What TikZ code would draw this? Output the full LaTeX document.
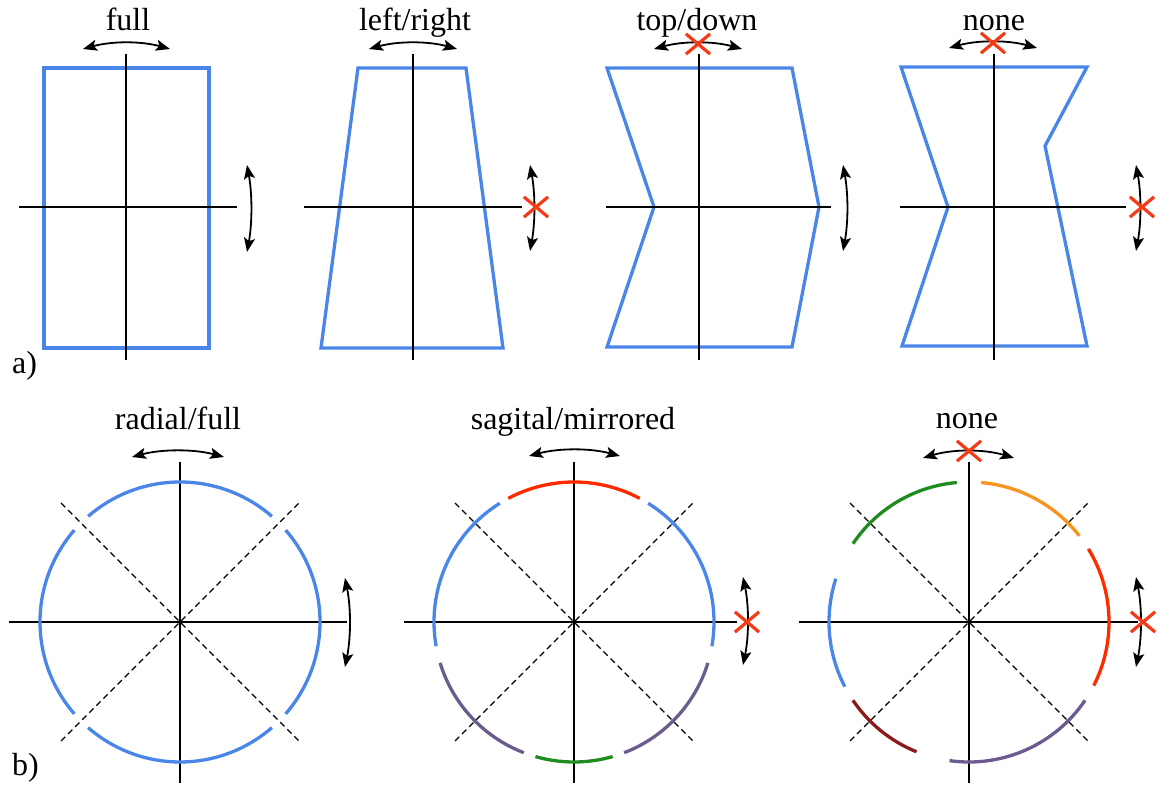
\documentclass[tikz,border=0pt]{standalone}
\usepackage{fontspec}
\setmainfont{Liberation Serif}
\usetikzlibrary{arrows.meta,shapes.misc}
\definecolor{sblue}{HTML}{4A86E8}
\definecolor{xred}{HTML}{F23C18}
\definecolor{ared}{HTML}{FF2A00}
\definecolor{agreen}{HTML}{1E8C1E}
\definecolor{aorange}{HTML}{F7931E}
\definecolor{apurple}{HTML}{6B5B8E}
\definecolor{adred}{HTML}{8B1A1A}
\tikzset{
  shapeline/.style={draw=sblue,line width=3.3pt,line join=miter},
  axisline/.style={draw=black,line width=1.3pt},
  diagline/.style={draw=black,line width=1.3pt,dash pattern=on 6pt off 4pt},
  dbl/.style={draw=black,line width=1.8pt,{Stealth[length=14pt,width=11pt,inset=3pt]}-{Stealth[length=14pt,width=11pt,inset=3pt]}},
  xmark/.style={cross out,draw=xred,line width=3.2pt,minimum width=21pt,minimum height=17pt,inner sep=0pt},
  arcline/.style={line width=3.3pt},
  lbl/.style={font=\fontsize{32}{36}\selectfont,anchor=base,inner sep=0pt},
}
\begin{document}
\begin{tikzpicture}[x=1pt,y=1pt]
\useasboundingbox (0,0) rectangle (1158,786);
% ---------------- row a ----------------
% panel 1
\draw[shapeline] (44,718) rectangle (209,438);
\coordinate (v1t) at (126,732); \coordinate (v1b) at (126,426);
\coordinate (h1l) at (19,579); \coordinate (h1r) at (237,579);
\draw[axisline] (v1t) -- (v1b); \draw[axisline] (h1l) -- (h1r);
\coordinate (t1a) at (83,737); \coordinate (t1b) at (170,737);
\draw[dbl] (t1a) .. controls +(29,8) and +(-29,8) .. (t1b);
\coordinate (r1a) at (247,621); \coordinate (r1b) at (247,534);
\draw[dbl] (r1a) .. controls +(5.3,-29) and +(5.3,29) .. (r1b);
\node[lbl] (L1) at (128,755) {full};
% panel 2
\draw[shapeline] (358,718) -- (466,718) -- (503,438) -- (321,438) -- cycle;
\coordinate (v2t) at (413,732); \coordinate (v2b) at (413,426);
\coordinate (h2l) at (304,579); \coordinate (h2r) at (522,579);
\draw[axisline] (v2t) -- (v2b); \draw[axisline] (h2l) -- (h2r);
\coordinate (t2a) at (369,737); \coordinate (t2b) at (457,737);
\draw[dbl] (t2a) .. controls +(29,8) and +(-29,8) .. (t2b);
\coordinate (r2a) at (530,621); \coordinate (r2b) at (530,535);
\draw[dbl] (r2a) .. controls +(5.3,-29) and +(5.3,29) .. (r2b);
\node[xmark] (X2r) at (536,579) {};
\node[lbl] (L2) at (415,755) {left/right};
% panel 3
\draw[shapeline] (607,718) -- (792,718) -- (819,579) -- (792,439) -- (607,439) -- (654,579) -- cycle;
\coordinate (v3t) at (699,732); \coordinate (v3b) at (699,426);
\coordinate (h3l) at (606,579); \coordinate (h3r) at (831,579);
\draw[axisline] (v3t) -- (v3b); \draw[axisline] (h3l) -- (h3r);
\coordinate (t3a) at (654,737); \coordinate (t3b) at (742,737);
\draw[dbl] (t3a) .. controls +(29,8) and +(-29,8) .. (t3b);
\node[xmark] (X3t) at (698,742) {};
\coordinate (r3a) at (843,621); \coordinate (r3b) at (843,535);
\draw[dbl] (r3a) .. controls +(5.3,-29) and +(5.3,29) .. (r3b);
\node[lbl] (L3) at (697,755) {top/down};
% panel 4
\draw[shapeline] (901,719) -- (1087,719) -- (1045,640) -- (1087,440) -- (902,440) -- (948,579) -- cycle;
\coordinate (v4t) at (994,732); \coordinate (v4b) at (994,426);
\coordinate (h4l) at (900,579); \coordinate (h4r) at (1126,579);
\draw[axisline] (v4t) -- (v4b); \draw[axisline] (h4l) -- (h4r);
\coordinate (t4a) at (949,738); \coordinate (t4b) at (1037,738);
\draw[dbl] (t4a) .. controls +(29,8) and +(-29,8) .. (t4b);
\node[xmark] (X4t) at (993,743) {};
\coordinate (r4a) at (1136,621); \coordinate (r4b) at (1136,535);
\draw[dbl] (r4a) .. controls +(5.3,-29) and +(5.3,29) .. (r4b);
\node[xmark] (X4r) at (1142,579) {};
\node[lbl] (L4) at (994,755) {none};
\node[lbl,anchor=base west] (La) at (12,412) {a)};
% ---------------- row b ----------------
% circle 1
\coordinate (c1) at (180,164);
\draw[axisline] (180,324) -- (180,3);
\draw[axisline] (9,164) -- (347,164);
\draw[diagline] (61,283) -- (299,45);
\draw[diagline] (61,45) -- (299,283);
\foreach \a/\b in {49/131,139/221,229/311,319/401}
  \draw[arcline,sblue] ([shift={(\a:140)}]c1) arc[start angle=\a,end angle=\b,radius=140];
\coordinate (t5a) at (132,329); \coordinate (t5b) at (224,329);
\draw[dbl] (t5a) .. controls +(30,8) and +(-30,8) .. (t5b);
\coordinate (r5a) at (345,208); \coordinate (r5b) at (345,119);
\draw[dbl] (r5a) .. controls +(6,-30) and +(6,30) .. (r5b);
\node[lbl] (L5) at (178,356) {radial/full};
\node[lbl,anchor=base west] (Lb) at (12,10) {b)};
% circle 2
\coordinate (c2) at (574,164);
\draw[axisline] (574,324) -- (574,3);
\draw[axisline] (404,164) -- (737,164);
\draw[diagline] (455,283) -- (693,45);
\draw[diagline] (455,45) -- (693,283);
\draw[arcline,ared] ([shift={(62:140)}]c2) arc[start angle=62,end angle=118,radius=140];
\draw[arcline,sblue] ([shift={(-10:140)}]c2) arc[start angle=-10,end angle=58,radius=140];
\draw[arcline,sblue] ([shift={(122:140)}]c2) arc[start angle=122,end angle=190,radius=140];
\draw[arcline,apurple] ([shift={(197:140)}]c2) arc[start angle=197,end angle=249,radius=140];
\draw[arcline,agreen] ([shift={(254:140)}]c2) arc[start angle=254,end angle=286,radius=140];
\draw[arcline,apurple] ([shift={(291:140)}]c2) arc[start angle=291,end angle=343,radius=140];
\coordinate (t6a) at (529,330); \coordinate (t6b) at (620,330);
\draw[dbl] (t6a) .. controls +(30,8) and +(-30,8) .. (t6b);
\coordinate (r6a) at (743,209); \coordinate (r6b) at (743,121);
\draw[dbl] (r6a) .. controls +(6,-29) and +(6,29) .. (r6b);
\node[xmark] (X6r) at (747,164) {};
\node[lbl] (L6) at (573,356) {sagital/mirrored};
% circle 3
\coordinate (c3) at (969,164);
\draw[axisline] (969,324) -- (969,3);
\draw[axisline] (799,164) -- (1138,164);
\draw[diagline] (850,283) -- (1088,45);
\draw[diagline] (850,45) -- (1088,283);
\draw[arcline,agreen] ([shift={(95:140)}]c3) arc[start angle=95,end angle=146,radius=140];
\draw[arcline,aorange] ([shift={(38:140)}]c3) arc[start angle=38,end angle=85,radius=140];
\draw[arcline,ared] ([shift={(-27:140)}]c3) arc[start angle=-27,end angle=31.5,radius=140];
\draw[arcline,apurple] ([shift={(262:140)}]c3) arc[start angle=262,end angle=326,radius=140];
\draw[arcline,adred] ([shift={(214:140)}]c3) arc[start angle=214,end angle=248,radius=140];
\draw[arcline,sblue] ([shift={(162:140)}]c3) arc[start angle=162,end angle=207.5,radius=140];
\coordinate (t7a) at (923,328); \coordinate (t7b) at (1014,328);
\draw[dbl] (t7a) .. controls +(30,9) and +(-30,9) .. (t7b);
\node[xmark] (X7t) at (969,335) {};
\coordinate (r7a) at (1136,209); \coordinate (r7b) at (1136,119);
\draw[dbl] (r7a) .. controls +(6,-30) and +(6,30) .. (r7b);
\node[xmark] (X7r) at (1143,164) {};
\node[lbl] (L7) at (967,357) {none};
\end{tikzpicture}
\end{document}
